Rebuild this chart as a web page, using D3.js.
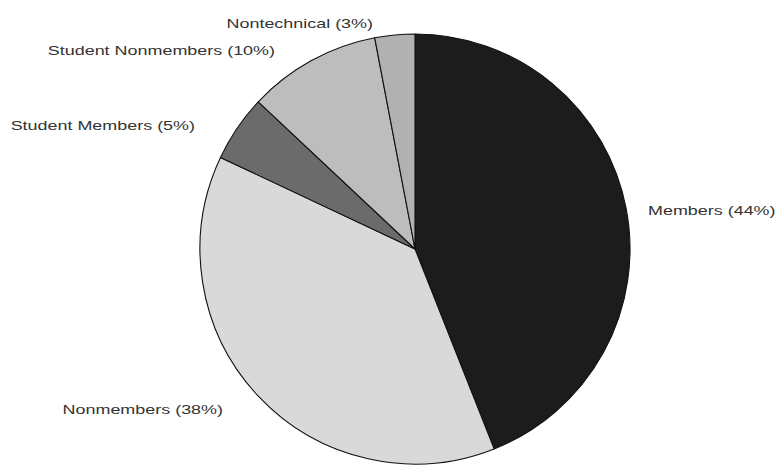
<!DOCTYPE html>
<html>
<head>
<meta charset="utf-8">
<script src="https://cdn.jsdelivr.net/npm/d3@7/dist/d3.min.js"></script>
<style>
  html, body { margin: 0; padding: 0; background: #fff; }
  svg { display: block; }
  text { font-family: "Liberation Sans", Arial, Helvetica, sans-serif; font-size: 13px; fill: #333; }
</style>
</head>
<body>
<svg id="chart" width="777" height="466"></svg>
<script>
// Attendance breakdown by registration type (percent)
const categories = ["Members", "Nonmembers", "Student Members", "Student Nonmembers", "Nontechnical"];
const shares = [44, 38, 5, 10, 3];
const fills = ["#1c1c1c", "#d9d9d9", "#6b6b6b", "#bdbdbd", "#b1b1b1"];

const width = 777, height = 466;
const cx = 415, cy = 249, r = 215;
const labelStretch = 1.38; // wide, horizontally expanded label lettering

const svg = d3.select("#chart");
const g = svg.append("g").attr("transform", `translate(${cx},${cy})`);

const pie = d3.pie().sort(null).value(d => d.value);
const arc = d3.arc().innerRadius(0).outerRadius(r);

const data = categories.map((c, i) => ({ name: c, value: shares[i], fill: fills[i] }));
const arcs = pie(data);

g.selectAll("path.slice")
  .data(arcs)
  .join("path")
  .attr("class", "slice")
  .attr("d", arc)
  .attr("fill", d => d.data.fill)
  .attr("stroke", "#111")
  .attr("stroke-width", 1.1)
  .attr("stroke-linejoin", "round");

// Label placement around the pie, relative to its centre (anchor x, baseline y)
const labelPlacement = {
  "Members":            { dx: 233,  dy: -34,  anchor: "start" },
  "Nonmembers":         { dx: -192, dy: 165,  anchor: "end" },
  "Student Members":    { dx: -220, dy: -119, anchor: "end" },
  "Student Nonmembers": { dx: -140, dy: -194, anchor: "end" },
  "Nontechnical":       { dx: -42,  dy: -221, anchor: "end" }
};

g.selectAll("g.label")
  .data(arcs)
  .join("g")
  .attr("class", "label")
  .attr("transform", d => {
    const p = labelPlacement[d.data.name];
    return `translate(${p.dx},${p.dy}) scale(${labelStretch},1)`;
  })
  .append("text")
  .attr("text-anchor", d => labelPlacement[d.data.name].anchor)
  .text(d => `${d.data.name} (${d.data.value}%)`);
</script>
</body>
</html>
